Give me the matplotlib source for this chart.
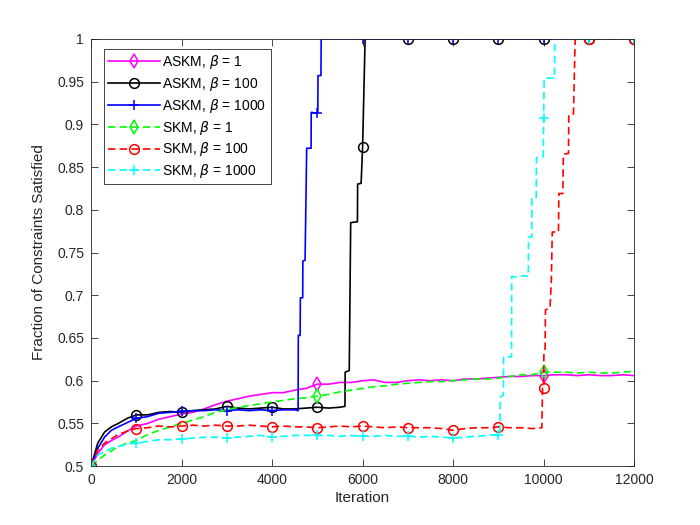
import numpy as np
from matplotlib import pyplot as plt

# iterations / fraction satisfied
askm1_x = [0, 150, 300, 450, 600, 800, 1000, 1250, 1500, 1750, 2000, 2250, 2500, 2750, 3000, 3250, 3500, 3750,
           4000, 4250, 4500, 4750, 5000, 5250, 5500, 5750, 6000, 6250, 6500, 6750, 7000, 7250, 7500, 7750,
           8000, 8250, 8500, 8750, 9000, 9250, 9500, 9750, 10000, 10250, 10500, 10750, 11000, 11250, 11500,
           11750, 12000]
askm1_y = [0.500, 0.515, 0.525, 0.530, 0.534, 0.541, 0.547, 0.550, 0.555, 0.558, 0.561, 0.563, 0.567, 0.572,
           0.576, 0.579, 0.582, 0.584, 0.586, 0.586, 0.589, 0.591, 0.596, 0.596, 0.598, 0.598, 0.600, 0.601,
           0.598, 0.598, 0.600, 0.601, 0.600, 0.601, 0.600, 0.602, 0.602, 0.603, 0.604, 0.605, 0.605, 0.606,
           0.606, 0.607, 0.607, 0.606, 0.607, 0.606, 0.606, 0.607, 0.606]

askm100_x = [0, 150, 300, 450, 600, 800, 1000, 1250, 1500, 1750, 2000, 2250, 2500, 2750, 3000, 3250, 3500,
             3750, 4000, 4250, 4500, 4750, 5000, 5250, 5500, 5610, 5615, 5705, 5737, 5886, 5890, 5967,
             6000, 6055, 7000, 8000, 9000, 10000, 11000, 12000]
askm100_y = [0.500, 0.527, 0.540, 0.546, 0.550, 0.556, 0.560, 0.560, 0.563, 0.564, 0.563, 0.565, 0.566,
             0.567, 0.570, 0.568, 0.567, 0.568, 0.569, 0.567, 0.567, 0.568, 0.569, 0.568, 0.569, 0.570, 0.610,
             0.612, 0.785, 0.786, 0.830, 0.831, 0.873, 1.000, 1.0, 1.0, 1.0, 1.0, 1.0, 1.0]

askm1000_x = [0, 150, 300, 450, 600, 800, 1000, 1250, 1500, 1750, 2000, 2250, 2500, 2750, 3000, 3250, 3500,
              3750, 4000, 4250, 4500, 4575, 4580, 4620, 4625, 4677, 4680, 4729, 4765, 4862, 4865, 5000, 5010,
              5015, 5080, 5085, 6000, 7000, 8000, 9000, 10000, 11000, 12000]
askm1000_y = [0.500, 0.521, 0.534, 0.542, 0.546, 0.551, 0.556, 0.558, 0.562, 0.563, 0.564, 0.565, 0.565,
              0.566, 0.565, 0.566, 0.565, 0.566, 0.565, 0.566, 0.566, 0.565, 0.653, 0.653, 0.697, 0.697, 0.740,
              0.741, 0.872, 0.872, 0.914, 0.913, 0.914, 0.957, 0.957, 1.000, 1.0, 1.0, 1.0, 1.0, 1.0, 1.0, 1.0]

skm1_x = askm1_x
skm1_y = [0.500, 0.507, 0.513, 0.518, 0.523, 0.527, 0.530, 0.537, 0.542, 0.546, 0.550, 0.554, 0.558, 0.563,
          0.566, 0.569, 0.571, 0.573, 0.575, 0.577, 0.579, 0.580, 0.582, 0.584, 0.587, 0.589, 0.591, 0.593,
          0.594, 0.596, 0.597, 0.598, 0.599, 0.599, 0.600, 0.601, 0.602, 0.602, 0.603, 0.605, 0.607, 0.607,
          0.610, 0.610, 0.610, 0.609, 0.610, 0.609, 0.609, 0.610, 0.611]

skm100_x = [0, 150, 300, 450, 600, 800, 1000, 1250, 1500, 1750, 2000, 2250, 2500, 2750, 3000, 3250, 3500,
            3750, 4000, 4250, 4500, 4750, 5000, 5250, 5500, 5750, 6000, 6250, 6500, 6750, 7000, 7250, 7500,
            7750, 8000, 8250, 8500, 8750, 9000, 9250, 9500, 9750, 9960, 9975, 10000, 10005, 10030, 10040,
            10140, 10170, 10190, 10327, 10335, 10424, 10435, 10548, 10555, 10658, 10696, 11000, 12000]
skm100_y = [0.500, 0.519, 0.527, 0.532, 0.537, 0.541, 0.544, 0.545, 0.547, 0.546, 0.547, 0.548, 0.547, 0.548,
            0.547, 0.547, 0.548, 0.547, 0.546, 0.547, 0.546, 0.546, 0.545, 0.546, 0.547, 0.546, 0.547, 0.546,
            0.545, 0.546, 0.545, 0.545, 0.545, 0.544, 0.542, 0.544, 0.545, 0.545, 0.546, 0.545, 0.545, 0.544,
            0.545, 0.591, 0.591, 0.632, 0.635, 0.683, 0.685, 0.718, 0.774, 0.774, 0.819, 0.819, 0.865, 0.866,
            0.911, 0.912, 1.000, 1.0, 1.0]

skm1000_x = [0, 150, 300, 450, 600, 800, 1000, 1250, 1500, 1750, 2000, 2250, 2500, 2750, 3000, 3250, 3500,
             3750, 4000, 4250, 4500, 4750, 5000, 5250, 5500, 5750, 6000, 6250, 6500, 6750, 7000, 7250, 7500,
             7750, 8000, 8250, 8500, 8750, 9000, 9035, 9040, 9110, 9115, 9290, 9295, 9450, 9550, 9660, 9665,
             9737, 9740, 9834, 9840, 9990, 10000, 10010, 10240, 10245, 11000, 12000]
skm1000_y = [0.500, 0.513, 0.517, 0.521, 0.523, 0.526, 0.527, 0.529, 0.531, 0.531, 0.532, 0.533, 0.534,
             0.534, 0.533, 0.534, 0.535, 0.536, 0.534, 0.535, 0.536, 0.536, 0.536, 0.536, 0.535, 0.536, 0.535,
             0.535, 0.536, 0.535, 0.535, 0.534, 0.535, 0.534, 0.533, 0.534, 0.535, 0.536, 0.537, 0.538, 0.581,
             0.583, 0.628, 0.628, 0.722, 0.721, 0.723, 0.722, 0.768, 0.768, 0.813, 0.813, 0.861, 0.862, 0.907,
             0.954, 0.954, 1.000, 1.0, 1.0]

# data, label, colour, line style, marker, marker step (iterations)
series = [
    (askm1_x, askm1_y, 'ASKM, $\\beta$ = 1', (1, 0, 1), '-', 'd', 5000),
    (askm100_x, askm100_y, 'ASKM, $\\beta$ = 100', 'k', '-', 'o', 1000),
    (askm1000_x, askm1000_y, 'ASKM, $\\beta$ = 1000', (0, 0, 1), '-', '+', 1000),
    (skm1_x, skm1_y, 'SKM, $\\beta$ = 1', (0, 1, 0), '--', 'd', 5000),
    (skm100_x, skm100_y, 'SKM, $\\beta$ = 100', (1, 0, 0), '--', 'o', 1000),
    (skm1000_x, skm1000_y, 'SKM, $\\beta$ = 1000', (0, 1, 1), '--', '+', 1000),
]

plt.rcParams['font.family'] = ['Liberation Sans', 'DejaVu Sans']
fig = plt.figure(figsize=(7, 5.25), dpi=100)
ax = fig.add_axes([0.13, 0.112, 0.776, 0.814])

for x, y, lab, c, ls, m, step in series:
    x = np.array(x)
    marks = list(np.where(x % step == 0)[0])
    line, = ax.plot(x, y, color=c, linestyle=ls, linewidth=1.2, marker=m, markevery=marks,
                    markersize=7, markerfacecolor='none', markeredgewidth=1.1, label=lab)
    if ls == '--':
        line.set_dashes((4.5, 2.5))

ax.set_xlim(0, 12000)
ax.set_ylim(0.5, 1)
ax.set_xticks(np.arange(0, 12001, 2000))
ax.set_yticks(np.arange(0.5, 1.001, 0.05))
ax.set_yticklabels(['0.5', '0.55', '0.6', '0.65', '0.7', '0.75', '0.8', '0.85', '0.9', '0.95', '1'])
ax.tick_params(direction='in', top=True, right=True, length=5, width=0.6, labelsize=10,
               colors='#262626', pad=5)
for s in ax.spines.values():
    s.set_color('#262626')
    s.set_linewidth(0.6)
ax.set_xlabel('Iteration', fontsize=11, color='#262626', labelpad=3)
ax.set_ylabel('Fraction of Constraints Satisfied', fontsize=11, color='#262626', labelpad=8)

leg = ax.legend(loc='upper left', bbox_to_anchor=(0.024, 0.977), borderaxespad=0, fontsize=10,
                handlelength=3.7, labelspacing=0.28, handletextpad=0.2, borderpad=0.3,
                fancybox=False, framealpha=1, edgecolor='#262626')
leg.get_frame().set_linewidth(0.6)

plt.savefig('out.png', dpi=100)
